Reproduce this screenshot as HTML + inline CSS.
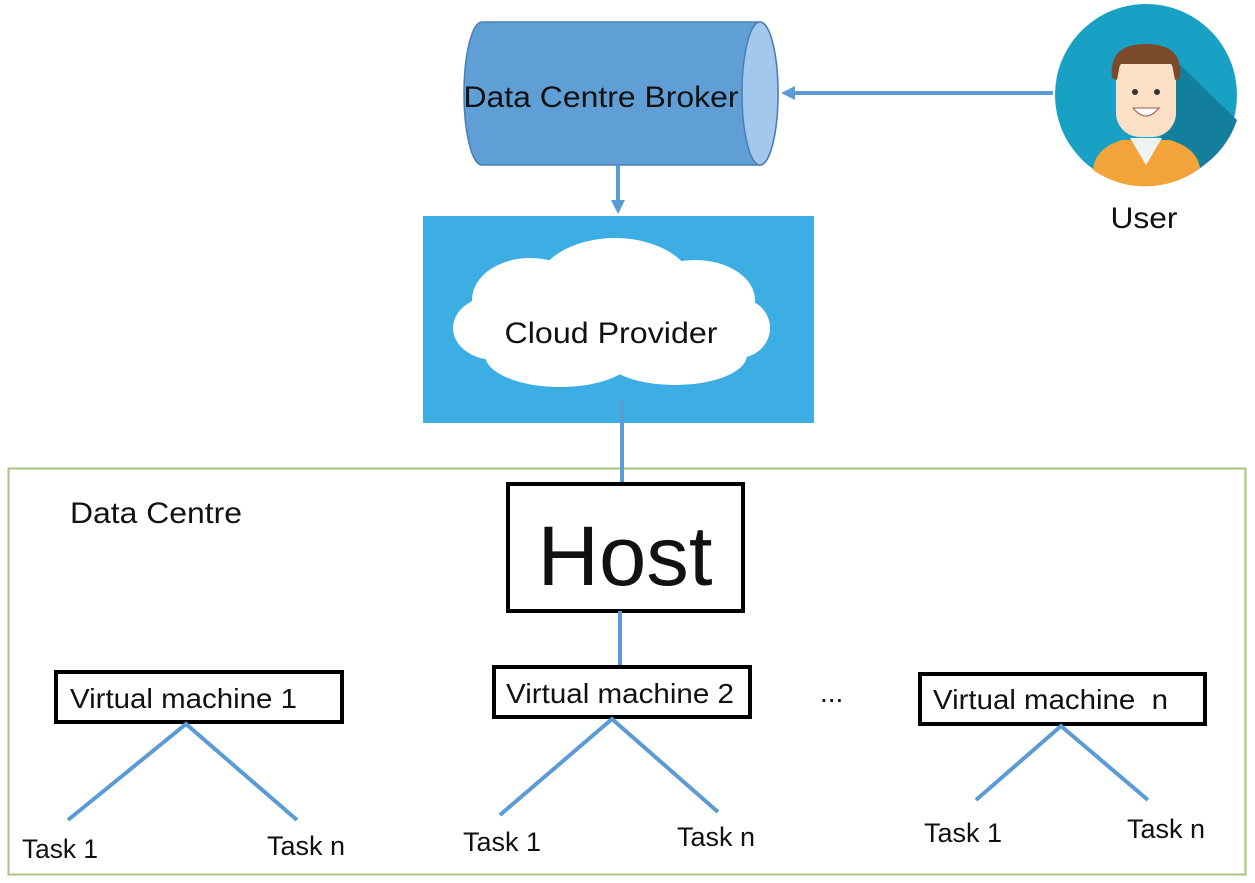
<!DOCTYPE html>
<html><head><meta charset="utf-8"><style>
body{margin:0;background:#fff;}
svg{display:block;}
text{font-family:"Liberation Sans",sans-serif;fill:#111;}
</style></head><body>
<svg width="1255" height="883" viewBox="0 0 1255 883" xmlns="http://www.w3.org/2000/svg">
<rect x="8.5" y="468.5" width="1237" height="406" fill="none" stroke="#a9c47f" stroke-width="2"/>
<path d="M482 22 L760 22 A18 71.5 0 0 1 760 165 L482 165 A18 71.5 0 0 1 482 22 Z" fill="#5f9fd6" stroke="#4a7fb4" stroke-width="1.5"/>
<ellipse cx="760" cy="93.5" rx="18" ry="71.5" fill="#a3c8ec" stroke="#4a7fb4" stroke-width="1.5"/>
<text x="601" y="107" font-size="30" text-anchor="middle" textLength="275" lengthAdjust="spacingAndGlyphs">Data Centre Broker</text>
<line x1="1053" y1="93" x2="792" y2="93" stroke="#5b9bd5" stroke-width="4"/>
<polygon points="781,93 795,86 795,100" fill="#5b9bd5"/>
<line x1="618" y1="165" x2="618" y2="202" stroke="#5b9bd5" stroke-width="4"/>
<polygon points="618,214 611,200 625,200" fill="#5b9bd5"/>
<rect x="423" y="216" width="391" height="207" fill="#3daee3"/>
<g fill="#fff">
<ellipse cx="615" cy="325" rx="152" ry="40"/>
<ellipse cx="530" cy="300" rx="58" ry="42"/>
<ellipse cx="615" cy="290" rx="80" ry="52"/>
<ellipse cx="695" cy="300" rx="60" ry="40"/>
<ellipse cx="560" cy="355" rx="75" ry="32"/>
<ellipse cx="675" cy="355" rx="72" ry="30"/>
<ellipse cx="495" cy="328" rx="42" ry="32"/>
<ellipse cx="738" cy="328" rx="32" ry="30"/>
</g>
<text x="611" y="343" font-size="30" text-anchor="middle" textLength="213" lengthAdjust="spacingAndGlyphs">Cloud Provider</text>
<line x1="622" y1="400" x2="622" y2="483" stroke="#5b9bd5" stroke-width="4"/>
<circle cx="1146" cy="95" r="91" fill="#18a1c4"/>
<path d="M1175 60 L1237 120 A91 91 0 0 1 1200 168 L1160 140 Z" fill="#137f9c"/>
<path d="M1093 170 Q1095 148 1122 140 L1170 140 Q1197 148 1200 168 A91 91 0 0 1 1093 170 Z" fill="#f2a43a"/>
<path d="M1130 138 L1146 165 L1162 138 Z" fill="#eef3f6"/>
<rect x="1116" y="55" width="60" height="82" rx="24" fill="#fbe0c6"/>
<path d="M1112 78 Q1108 44 1146 44 Q1184 44 1180 78 L1175 80 L1172 64 L1120 64 L1117 80 Z" fill="#7a4a2a"/>
<circle cx="1135" cy="92" r="3" fill="#333"/><circle cx="1157" cy="92" r="3" fill="#333"/>
<path d="M1133 108 Q1146 124 1159 108 Z" fill="#fff" stroke="#a55" stroke-width="1"/>
<text x="1144" y="228" font-size="30" text-anchor="middle" textLength="67" lengthAdjust="spacingAndGlyphs">User</text>
<text x="70" y="523" font-size="30" textLength="172" lengthAdjust="spacingAndGlyphs">Data Centre</text>
<rect x="508" y="484" width="235" height="127" fill="#fff" stroke="#000" stroke-width="4"/>
<text x="625" y="585" font-size="84" text-anchor="middle" textLength="175" lengthAdjust="spacingAndGlyphs">Host</text>
<line x1="620" y1="611" x2="620" y2="666" stroke="#5b9bd5" stroke-width="4"/>
<rect x="56" y="672" width="286" height="50" fill="#fff" stroke="#000" stroke-width="4"/>
<text x="70" y="708" font-size="28" textLength="227" lengthAdjust="spacingAndGlyphs">Virtual machine 1</text>
<rect x="494" y="667" width="256" height="50" fill="#fff" stroke="#000" stroke-width="4"/>
<text x="506" y="703" font-size="28" textLength="228" lengthAdjust="spacingAndGlyphs">Virtual machine 2</text>
<rect x="920" y="674" width="285" height="50" fill="#fff" stroke="#000" stroke-width="4"/>
<text x="933" y="709" font-size="28" xml:space="preserve" textLength="235" lengthAdjust="spacingAndGlyphs">Virtual machine  n</text>
<text x="820" y="702" font-size="28">...</text>
<g stroke="#5b9bd5" stroke-width="4" fill="none">
<polyline points="68,820 186,724 297,820"/>
<polyline points="500,815 612,719 718,812"/>
<polyline points="976,800 1061,726 1148,800"/>
</g>
<g font-size="27">
<text x="22" y="858" textLength="76" lengthAdjust="spacingAndGlyphs">Task 1</text>
<text x="267" y="855" textLength="78" lengthAdjust="spacingAndGlyphs">Task n</text>
<text x="463" y="851" textLength="78" lengthAdjust="spacingAndGlyphs">Task 1</text>
<text x="677" y="846" textLength="78" lengthAdjust="spacingAndGlyphs">Task n</text>
<text x="924" y="842" textLength="78" lengthAdjust="spacingAndGlyphs">Task 1</text>
<text x="1127" y="838" textLength="78" lengthAdjust="spacingAndGlyphs">Task n</text>
</g>
</svg>
</body></html>
